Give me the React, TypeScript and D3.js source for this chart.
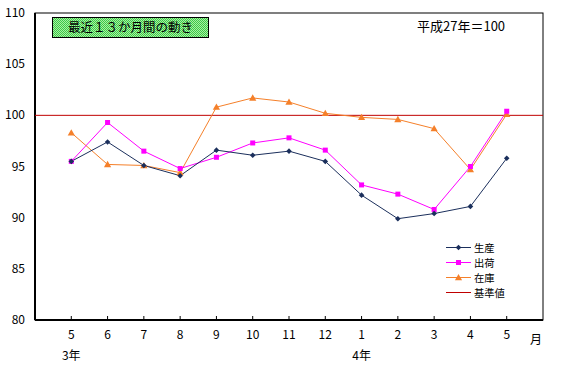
import React from "react";
import * as d3 from "d3";

const months = ["5", "6", "7", "8", "9", "10", "11", "12", "1", "2", "3", "4", "5"];
const seisan = [95.5, 97.4, 95.1, 94.1, 96.6, 96.1, 96.5, 95.5, 92.2, 89.9, 90.4, 91.1, 95.8];
const shukka = [95.5, 99.3, 96.5, 94.8, 95.9, 97.3, 97.8, 96.6, 93.2, 92.3, 90.8, 95.0, 100.4];
const zaiko = [98.3, 95.2, 95.1, 94.4, 100.8, 101.7, 101.3, 100.2, 99.8, 99.6, 98.7, 94.7, 100.1];
const baseValue = 100;
const yTicks = [80, 85, 90, 95, 100, 105, 110];
const yearLabels = [
  { index: 0, label: "3年" },
  { index: 8, label: "4年" },
];

const W = 561;
const H = 377;
const left = 35;
const right = 543;
const top = 13;
const bottom = 320;
const font = "'Noto Sans CJK JP', 'DejaVu Sans', sans-serif";

const NAVY = "#1b2f5c";
const MAGENTA = "#ff00ff";
const ORANGE = "#f5802a";
const RED = "#c00000";

export default function App() {
  const x = d3.scaleLinear().domain([-1, months.length]).range([left, right]);
  const y = d3.scaleLinear().domain([80, 110]).range([bottom, top]);
  const line = d3
    .line<number>()
    .x((_, i) => x(i))
    .y((d) => y(d));

  const diamond = (cx: number, cy: number, r = 2.8) =>
    `M${cx},${cy - r}L${cx + r},${cy}L${cx},${cy + r}L${cx - r},${cy}Z`;
  const tri = (cx: number, cy: number, r = 3.6) =>
    `M${cx},${cy - r}L${cx + r},${cy + r * 0.75}L${cx - r},${cy + r * 0.75}Z`;

  const legend = [
    { label: "生産", color: NAVY, marker: "diamond" },
    { label: "出荷", color: MAGENTA, marker: "square" },
    { label: "在庫", color: ORANGE, marker: "triangle" },
    { label: "基準値", color: RED, marker: "none" },
  ];

  const marker = (type: string, cx: number, cy: number, color: string, key: string) => {
    if (type === "diamond") return <path key={key} d={diamond(cx, cy)} fill={color} />;
    if (type === "square")
      return <rect key={key} x={cx - 2.5} y={cy - 2.5} width={5} height={5} fill={color} />;
    if (type === "triangle") return <path key={key} d={tri(cx, cy)} fill={color} />;
    return null;
  };

  return (
    <svg width={W} height={H} style={{ position: "absolute", left: 0, top: 0, background: "#fff" }}>
      <defs>
        <pattern id="check" width="2" height="2" patternUnits="userSpaceOnUse">
          <rect width="2" height="2" fill="#a8f0a0" />
          <rect width="1" height="1" fill="#3cc84a" />
          <rect x="1" y="1" width="1" height="1" fill="#3cc84a" />
        </pattern>
      </defs>
      <rect x={0} y={0} width={W} height={H} fill="#fff" />

      {/* plot frame */}
      <rect x={left} y={top} width={right - left} height={bottom - top} fill="none" stroke="#000" strokeWidth={1} />
      <line x1={left} x2={right} y1={bottom} y2={bottom} stroke="#000" strokeWidth={2} />
      <line x1={left} x2={left} y1={top} y2={bottom} stroke="#000" strokeWidth={2} />

      {/* x ticks */}
      {months.map((m, i) => (
        <g key={"xt" + i}>
          <line x1={x(i)} x2={x(i)} y1={bottom} y2={bottom - 4} stroke="#000" strokeWidth={1} />
          <text x={x(i)} y={bottom + 19} textAnchor="middle" fontSize={12} fontFamily={font}>
            {m}
          </text>
        </g>
      ))}
      <text x={x(months.length) - 7} y={bottom + 24} textAnchor="middle" fontSize={12} fontFamily={font}>
        月
      </text>
      {yearLabels.map((yl) => (
        <text key={yl.label} x={x(yl.index)} y={bottom + 40} textAnchor="middle" fontSize={12} fontFamily={font}>
          {yl.label}
        </text>
      ))}

      {/* y labels */}
      {yTicks.map((t) => (
        <text key={"yt" + t} x={25} y={y(t) + 4} textAnchor="end" fontSize={12} fontFamily={font}>
          {t}
        </text>
      ))}

      {/* base line */}
      <line x1={left} x2={right} y1={y(baseValue)} y2={y(baseValue)} stroke={RED} strokeWidth={1} />

      {/* series */}
      <path d={line(zaiko) || ""} fill="none" stroke={ORANGE} strokeWidth={1} />
      <path d={line(shukka) || ""} fill="none" stroke={MAGENTA} strokeWidth={1} />
      <path d={line(seisan) || ""} fill="none" stroke={NAVY} strokeWidth={1} />
      {zaiko.map((v, i) => marker("triangle", x(i), y(v), ORANGE, "z" + i))}
      {shukka.map((v, i) => marker("square", x(i), y(v), MAGENTA, "s" + i))}
      {seisan.map((v, i) => marker("diamond", x(i), y(v), NAVY, "p" + i))}

      {/* title box */}
      <rect x={52.5} y={17.5} width={156} height={20} fill="url(#check)" stroke="#000" strokeWidth={1} />
      <text x={130.5} y={32} textAnchor="middle" fontSize={12.5} fontFamily={font}>
        最近１３か月間の動き
      </text>
      <text x={417} y={31} fontSize={13} fontFamily={font}>
        平成27年＝100
      </text>

      {/* legend */}
      {legend.map((l, i) => {
        const ly = 247.5 + i * 15;
        return (
          <g key={"lg" + i}>
            <line x1={446} x2={471} y1={ly} y2={ly} stroke={l.color} strokeWidth={1} />
            {marker(l.marker, 458.5, ly, l.color, "lm" + i)}
            <text x={474} y={ly + 4} fontSize={10.3} fontFamily={font}>
              {l.label}
            </text>
          </g>
        );
      })}
    </svg>
  );
}
